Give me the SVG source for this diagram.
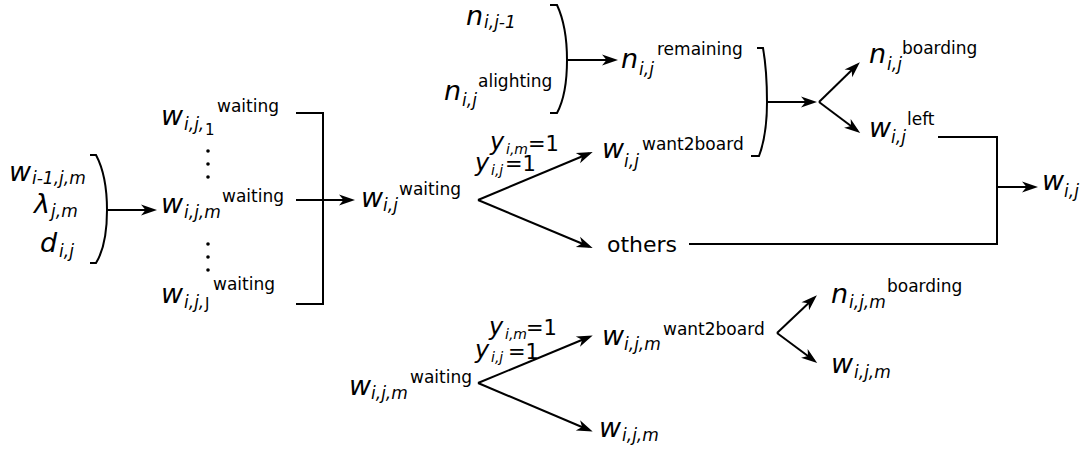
<svg xmlns="http://www.w3.org/2000/svg" width="1089" height="452" viewBox="0 0 1089 452">
<style>
text{font-family:"DejaVu Sans","Liberation Sans",sans-serif;fill:#000}
.m{font-size:27px;font-style:italic}
.s{font-size:17px;font-style:italic}
.su{font-size:15px}
.p{font-size:17px}
.ly{font-size:24px;font-style:italic}
.ls{font-size:14px;font-style:italic}
.le{font-size:21px}
.o{font-size:22px}
.ln{fill:none;stroke:#000;stroke-width:2}
.ar{marker-end:url(#ah)}
</style>
<defs>
<marker id="ah" viewBox="-13 -6 18 12" refX="0" refY="0" markerWidth="18" markerHeight="12" markerUnits="userSpaceOnUse" orient="auto">
<path d="M4,0 L-12,-5.5 L-7.5,0 L-12,5.5 Z" fill="#000"/>
</marker>
</defs>
<g id="connectors">
<path class="ln" d="M90,155 L96,155 C104,170 107,190 107,210 C107,230 104,250 96,263 L90,263"/>
<path class="ln ar" d="M107,210 H153"/>
<path class="ln" d="M296,113 H323 V304 H296"/>
<path class="ln ar" d="M296,200 H351"/>
<path class="ln ar" d="M478,200 L589,153.5"/>
<path class="ln ar" d="M478,200 L589,246.5"/>
<path class="ln" d="M550,5 L557,5 C564,20 567,40 567,60 C567,80 564,100 557,113 L550,113"/>
<path class="ln ar" d="M567,60 H614"/>
<path class="ln" d="M757,48 L763,48 C766,65 767,85 767,102 C767,120 765,140 759,156 L751,156"/>
<path class="ln ar" d="M767,102 H813"/>
<path class="ln ar" d="M819,102 L857,65"/>
<path class="ln ar" d="M819,102 L857,130.5"/>
<path class="ln" d="M938,137 H997 V244 H689"/>
<path class="ln ar" d="M997,187 H1034"/>
<path class="ln ar" d="M478,383 L589,337"/>
<path class="ln ar" d="M478,383 L589,430"/>
<path class="ln ar" d="M777,333 L814,298"/>
<path class="ln ar" d="M777,333 L814,360.5"/>
</g>
<g id="dots">
<circle cx="208" cy="151" r="1.8"/>
<circle cx="208" cy="164" r="1.8"/>
<circle cx="208" cy="177" r="1.8"/>
<circle cx="208" cy="244" r="1.8"/>
<circle cx="208" cy="257" r="1.8"/>
<circle cx="208" cy="270" r="1.8"/>
</g>
<g id="inputs">
<text><tspan class="m" x="9" y="181">w</tspan><tspan class="s" x="32" y="184">i-1,j,m</tspan></text>
<text><tspan class="m" x="34" y="213">λ</tspan><tspan class="s" x="51" y="217">j,m</tspan></text>
<text><tspan class="m" x="40" y="252">d</tspan><tspan class="s" x="59" y="257">i,j</tspan></text>
</g>
<g id="w-waiting-1">
<text><tspan class="m" x="161" y="125">w</tspan><tspan class="s" x="184" y="130">i,j,</tspan><tspan class="su" x="205" y="135">1</tspan><tspan class="p" x="217" y="112">waiting</tspan></text>
</g>
<g id="w-waiting-m">
<text><tspan class="m" x="161" y="213">w</tspan><tspan class="s" x="184" y="218">i,j,m</tspan><tspan class="p" x="222" y="202">waiting</tspan></text>
</g>
<g id="w-waiting-J">
<text><tspan class="m" x="161" y="303">w</tspan><tspan class="s" x="184" y="308">i,j,</tspan><tspan class="su" x="205" y="309">J</tspan><tspan class="p" x="213" y="290">waiting</tspan></text>
</g>
<g id="w-ij-waiting">
<text><tspan class="m" x="361" y="207">w</tspan><tspan class="s" x="383" y="211">i,j</tspan><tspan class="p" x="399" y="195">waiting</tspan></text>
</g>
<g id="label-top">
<text><tspan class="ly" x="490" y="150">y</tspan><tspan class="ls" x="506" y="154">i,m</tspan><tspan class="le" x="528" y="151">=1</tspan></text>
<text><tspan class="ly" x="475" y="171">y</tspan><tspan class="ls" x="491" y="175">i,j</tspan><tspan class="le" x="505" y="171">=1</tspan></text>
</g>
<g id="w-want2board">
<text><tspan class="m" x="602" y="158">w</tspan><tspan class="s" x="624" y="167">i,j</tspan><tspan class="p" x="642" y="150">want2board</tspan></text>
</g>
<g id="others">
<text class="o" x="607" y="252">others</text>
</g>
<g id="n-prev">
<text><tspan class="m" x="466" y="25">n</tspan><tspan class="s" x="484" y="28">i,j-1</tspan></text>
</g>
<g id="n-alighting">
<text><tspan class="m" x="444" y="100">n</tspan><tspan class="s" x="462" y="106">i,j</tspan><tspan class="p" x="478" y="87">alighting</tspan></text>
</g>
<g id="n-remaining">
<text><tspan class="m" x="621" y="68">n</tspan><tspan class="s" x="639" y="75">i,j</tspan><tspan class="p" x="657" y="55">remaining</tspan></text>
</g>
<g id="n-boarding">
<text><tspan class="m" x="869" y="63">n</tspan><tspan class="s" x="887" y="70">i,j</tspan><tspan class="p" x="902" y="54">boarding</tspan></text>
</g>
<g id="w-left">
<text><tspan class="m" x="869" y="137">w</tspan><tspan class="s" x="891" y="143">i,j</tspan><tspan class="p" x="907" y="125">left</tspan></text>
</g>
<g id="w-ij">
<text><tspan class="m" x="1042" y="190">w</tspan><tspan class="s" x="1064" y="197">i,j</tspan></text>
</g>
<g id="w-ijm-waiting">
<text><tspan class="m" x="349" y="395">w</tspan><tspan class="s" x="371" y="399">i,j,m</tspan><tspan class="p" x="410" y="383">waiting</tspan></text>
</g>
<g id="label-bottom">
<text><tspan class="ly" x="489" y="335">y</tspan><tspan class="ls" x="505" y="339">i,m</tspan><tspan class="le" x="526" y="335">=1</tspan></text>
<text><tspan class="ly" x="475" y="358">y</tspan><tspan class="ls" x="491" y="362">i,j</tspan><tspan class="le" x="508" y="359">=1</tspan></text>
</g>
<g id="w-ijm-want2board">
<text><tspan class="m" x="602" y="345">w</tspan><tspan class="s" x="624" y="350">i,j,m</tspan><tspan class="p" x="663" y="335">want2board</tspan></text>
</g>
<g id="w-ijm-bottom">
<text><tspan class="m" x="599" y="437">w</tspan><tspan class="s" x="622" y="441">i,j,m</tspan></text>
</g>
<g id="n-ijm-boarding">
<text><tspan class="m" x="831" y="303">n</tspan><tspan class="s" x="849" y="308">i,j,m</tspan><tspan class="p" x="887" y="292">boarding</tspan></text>
</g>
<g id="w-ijm-right">
<text><tspan class="m" x="831" y="373">w</tspan><tspan class="s" x="854" y="378">i,j,m</tspan></text>
</g>
</svg>
